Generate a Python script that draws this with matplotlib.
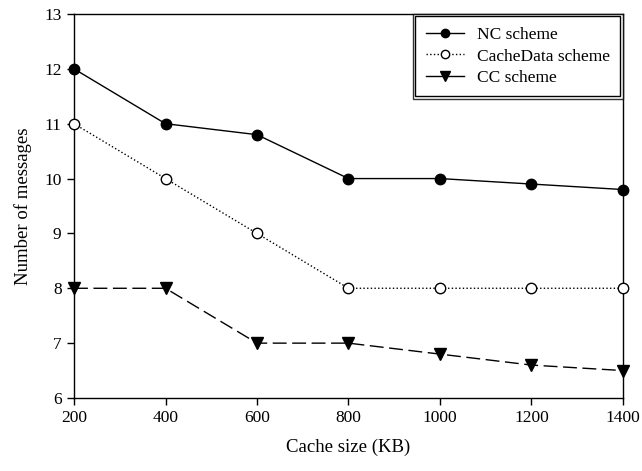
import matplotlib
matplotlib.use("Agg")
import matplotlib.pyplot as plt
from matplotlib.lines import Line2D
from matplotlib.patches import Rectangle

plt.rcParams['font.family'] = ['Liberation Serif', 'DejaVu Serif']

cache_kb = [200, 400, 600, 800, 1000, 1200, 1400]
nc = [12, 11, 10.8, 10, 10, 9.9, 9.8]
cachedata = [11, 10, 9, 8, 8, 8, 8]
cc = [8, 8, 7, 7, 6.8, 6.6, 6.5]

fig = plt.figure(figsize=(6.42, 4.71), dpi=100)
ax = fig.add_axes([0.1153, 0.155, 0.855, 0.8153])

ax.plot(cache_kb, nc, 'k-', marker='o', ms=7.5, lw=1, clip_on=False, zorder=3)
ax.plot(cache_kb, cachedata, 'k:', marker='o', mfc='white', ms=7.5, lw=1, clip_on=False, zorder=3)
ax.plot(cache_kb, cc, 'k', ls=(0, (10, 4)), marker='v', ms=8, lw=1, clip_on=False, zorder=3)

ax.set_xlim(200, 1400)
ax.set_ylim(6, 13)
ax.set_xticks(cache_kb)
ax.set_yticks(range(6, 14))
ax.tick_params(direction='out', length=5, width=1, labelsize=12.5, colors='black', pad=4)
for s in ax.spines.values():
    s.set_linewidth(1)
ax.set_xlabel('Cache size (KB)', fontsize=13.5, labelpad=9)
ax.set_ylabel('Number of messages', fontsize=13.5, labelpad=9)

handles = [
    Line2D([], [], color='k', ls='-', marker='o', ms=6, lw=1),
    Line2D([], [], color='k', ls=':', marker='o', mfc='white', ms=6, lw=1),
    Line2D([], [], color='k', ls='-', marker='v', ms=6.5, lw=1),
]
leg = ax.legend(handles, ['NC scheme', 'CacheData scheme', 'CC scheme'],
                loc='upper left', fontsize=12.5, fancybox=False, edgecolor='black',
                handlelength=2.2, handletextpad=0.72, borderpad=0.75, labelspacing=0.3,
                bbox_to_anchor=(0.6175, 1.0), borderaxespad=0)
leg.get_frame().set_linewidth(1)

# inner line of the double border
fig.canvas.draw()
bb = leg.get_window_extent().transformed(fig.transFigure.inverted())
dx, dy = 2.5 / 642, 2.5 / 471
fig.add_artist(Rectangle((bb.x0 + dx, bb.y0 + dy), bb.width - 2 * dx, bb.height - 2 * dy,
                         transform=fig.transFigure, fill=False, lw=1, ec='black', zorder=10))

fig.savefig('out.png', dpi=100)
